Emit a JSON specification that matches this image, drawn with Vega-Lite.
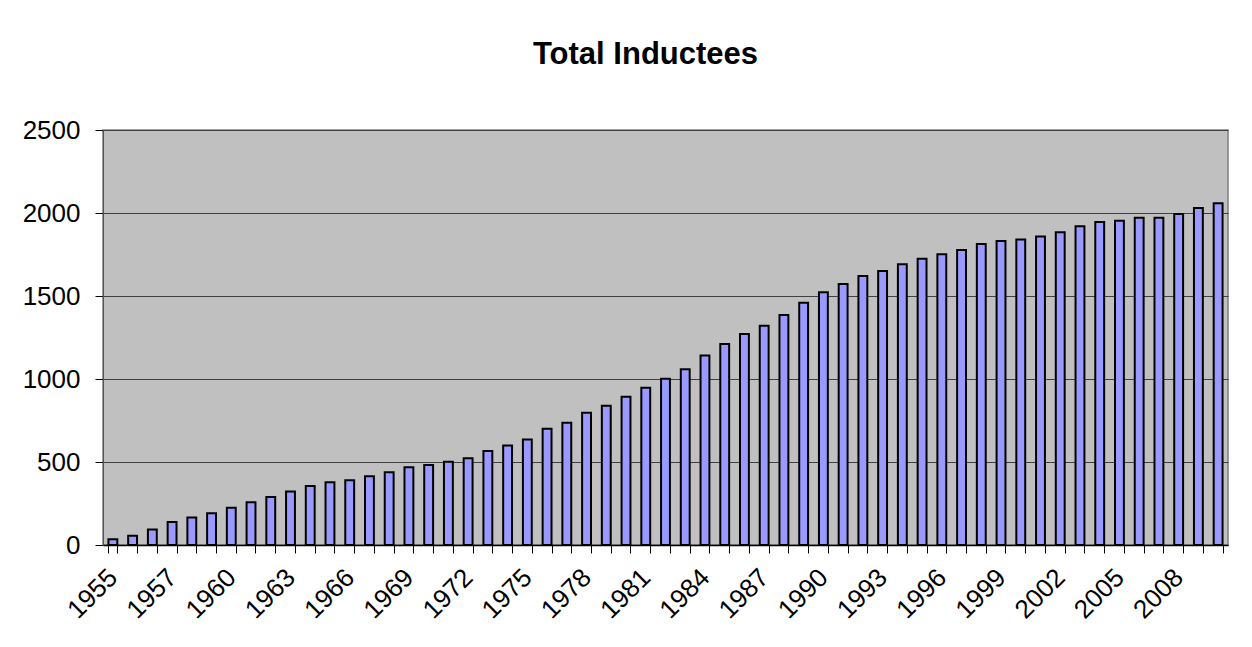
{
  "$schema": "https://vega.github.io/schema/vega-lite/v6.json",
  "autosize": "none",
  "width": 1125,
  "height": 415,
  "padding": {"left": 103, "top": 130, "right": 24, "bottom": 102},
  "background": "white",
  "title": {
    "text": "Total Inductees",
    "font": "Liberation Sans",
    "fontSize": 31,
    "fontWeight": "bold",
    "color": "black",
    "anchor": "middle",
    "baseline": "alphabetic",
    "offset": 22,
    "dx": -20
  },
  "data": {
    "values": [
      {"year": "1955", "total": 35},
      {"year": "1955 (2)", "total": 55},
      {"year": "1956", "total": 94},
      {"year": "1957", "total": 138},
      {"year": "1958", "total": 166},
      {"year": "1959", "total": 191},
      {"year": "1960", "total": 225},
      {"year": "1961", "total": 257},
      {"year": "1962", "total": 289},
      {"year": "1963", "total": 323},
      {"year": "1964", "total": 355},
      {"year": "1965", "total": 378},
      {"year": "1966", "total": 390},
      {"year": "1967", "total": 414},
      {"year": "1968", "total": 438},
      {"year": "1969", "total": 468},
      {"year": "1970", "total": 482},
      {"year": "1971", "total": 502},
      {"year": "1972", "total": 522},
      {"year": "1973", "total": 566},
      {"year": "1974", "total": 600},
      {"year": "1975", "total": 636},
      {"year": "1976", "total": 701},
      {"year": "1977", "total": 737},
      {"year": "1978", "total": 797},
      {"year": "1979", "total": 839},
      {"year": "1980", "total": 893},
      {"year": "1981", "total": 948},
      {"year": "1982", "total": 1002},
      {"year": "1983", "total": 1058},
      {"year": "1984", "total": 1141},
      {"year": "1985", "total": 1211},
      {"year": "1986", "total": 1271},
      {"year": "1987", "total": 1321},
      {"year": "1988", "total": 1386},
      {"year": "1989", "total": 1460},
      {"year": "1990", "total": 1522},
      {"year": "1991", "total": 1572},
      {"year": "1992", "total": 1620},
      {"year": "1993", "total": 1650},
      {"year": "1994", "total": 1691},
      {"year": "1995", "total": 1725},
      {"year": "1996", "total": 1751},
      {"year": "1997", "total": 1777},
      {"year": "1998", "total": 1813},
      {"year": "1999", "total": 1831},
      {"year": "2000", "total": 1841},
      {"year": "2001", "total": 1859},
      {"year": "2002", "total": 1884},
      {"year": "2003", "total": 1920},
      {"year": "2004", "total": 1946},
      {"year": "2005", "total": 1954},
      {"year": "2006", "total": 1972},
      {"year": "2007", "total": 1972},
      {"year": "2008", "total": 1994},
      {"year": "2009", "total": 2030},
      {"year": "2010", "total": 2058}
    ]
  },
  "mark": {"type": "bar", "fill": "#9999FF", "stroke": "black", "strokeWidth": 2},
  "encoding": {
    "x": {
      "field": "year",
      "type": "nominal",
      "sort": null,
      "scale": {"paddingInner": 0.55, "paddingOuter": 0.275},
      "axis": {
        "title": null,
        "labelExpr": "datum.value == '1955' || toNumber(datum.value) % 3 == 1 ? datum.value : ''",
        "labelAngle": -45,
        "labelAlign": "right",
        "labelBaseline": "middle",
        "labelFont": "Liberation Sans",
        "labelFontSize": 26,
        "labelColor": "black",
        "labelPadding": 20,
        "labelOverlap": false,
        "tickBand": "extent",
        "tickSize": 8,
        "tickColor": "black",
        "domainColor": "black",
        "domainWidth": 1.5,
        "grid": false
      }
    },
    "y": {
      "field": "total",
      "type": "quantitative",
      "scale": {"domain": [0, 2500], "nice": false},
      "axis": {
        "title": null,
        "values": [0, 500, 1000, 1500, 2000, 2500],
        "format": "d",
        "labelFont": "Liberation Sans",
        "labelFontSize": 26,
        "labelColor": "black",
        "labelPadding": 15,
        "tickSize": 8,
        "tickColor": "black",
        "domainColor": "#555555",
        "grid": true,
        "gridColor": "#404040",
        "gridWidth": 1
      }
    }
  },
  "config": {
    "view": {"fill": "#C0C0C0", "stroke": "#808080", "strokeWidth": 1.5}
  }
}
